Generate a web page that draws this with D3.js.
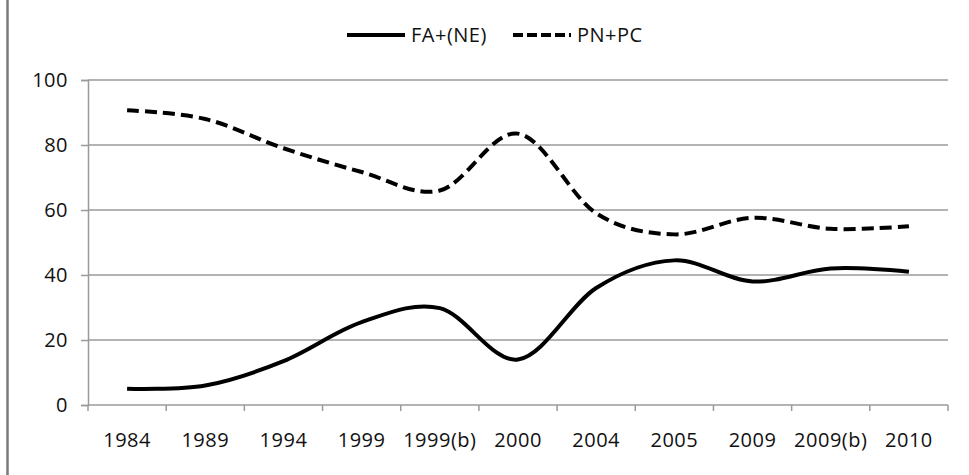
<!DOCTYPE html>
<html>
<head>
<meta charset="utf-8">
<script src="https://cdn.jsdelivr.net/npm/d3@7"></script>
<style>
  html, body { margin: 0; padding: 0; background: #fff; }
  svg { display: block; }
  text { font-family: "Open Sans", sans-serif; fill: #111; letter-spacing: 0.5px; }
</style>
</head>
<body>
<script>
// categories and series
const categories = ['1984', '1989', '1994', '1999', '1999(b)', '2000', '2004', '2005', '2009', '2009(b)', '2010'];
const faNe = [5, 6, 13.5, 25.5, 29.8, 14, 36, 44.5, 38, 42, 41];
const pnPc = [90.7, 88, 79, 71.7, 66, 83.5, 59, 52.5, 57.6, 54.2, 55];
const yTicks = [0, 20, 40, 60, 80, 100];

const series = [
  { name: 'FA+(NE)', values: faNe, dash: null },
  { name: 'PN+PC', values: pnPc, dash: '12,6' }
];

const width = 969, height = 475;
const margin = { top: 80, right: 21, bottom: 70, left: 88 };
const fontSize = 20;

const svg = d3.select('body').append('svg')
  .attr('width', width)
  .attr('height', height);

// left frame edge
svg.append('line')
  .attr('x1', 7.5).attr('x2', 7.5)
  .attr('y1', 0).attr('y2', height)
  .attr('stroke', '#7a7a7a')
  .attr('stroke-width', 2.5);

const x = d3.scaleBand()
  .domain(categories)
  .range([margin.left, width - margin.right]);

const y = d3.scaleLinear()
  .domain([0, 100])
  .range([height - margin.bottom, margin.top]);

// gridlines
svg.append('g')
  .selectAll('line')
  .data(yTicks.filter(d => d > 0))
  .join('line')
  .attr('x1', margin.left)
  .attr('x2', width - margin.right)
  .attr('y1', d => y(d))
  .attr('y2', d => y(d))
  .attr('stroke', '#9a9a9a')
  .attr('stroke-width', 1.5);

// y axis
const yAxis = svg.append('g')
  .attr('transform', `translate(${margin.left},0)`)
  .call(d3.axisLeft(y).tickValues(yTicks).tickSize(7).tickPadding(13));
yAxis.select('.domain').attr('stroke', '#9a9a9a').attr('stroke-width', 1.5);
yAxis.selectAll('.tick line').attr('stroke', '#9a9a9a').attr('stroke-width', 1.5);
yAxis.selectAll('.tick text').attr('font-size', fontSize).style('font-family', '"Open Sans", sans-serif').attr('fill', '#111');

// x axis with ticks on category boundaries
const xAxisG = svg.append('g')
  .attr('transform', `translate(0,${y(0)})`);
xAxisG.append('line')
  .attr('x1', margin.left).attr('x2', width - margin.right)
  .attr('stroke', '#9a9a9a').attr('stroke-width', 1.5);
const bounds = categories.map(c => x(c)).concat([x.range()[1]]);
xAxisG.selectAll('line.tk')
  .data(bounds)
  .join('line')
  .attr('class', 'tk')
  .attr('x1', d => d).attr('x2', d => d)
  .attr('y1', 0).attr('y2', 6)
  .attr('stroke', '#9a9a9a').attr('stroke-width', 1.5);
xAxisG.selectAll('text')
  .data(categories)
  .join('text')
  .attr('x', d => x(d) + x.bandwidth() / 2)
  .attr('y', 35)
  .attr('dy', '0.35em')
  .attr('text-anchor', 'middle')
  .attr('font-size', fontSize)
  .text(d => d);

// lines
const line = d3.line()
  .x((d, i) => x(categories[i]) + x.bandwidth() / 2)
  .y(d => y(d))
  .curve(d3.curveCatmullRom.alpha(0));

svg.append('g')
  .selectAll('path')
  .data(series)
  .join('path')
  .attr('d', d => line(d.values))
  .attr('fill', 'none')
  .attr('stroke', '#000')
  .attr('stroke-width', 4)
  .attr('stroke-dasharray', d => d.dash);

// legend
const legend = svg.append('g');
const legendX = [347, 513];
series.forEach((s, i) => {
  const g = legend.append('g').attr('transform', `translate(${legendX[i]},35)`);
  g.append('line')
    .attr('x1', 0).attr('x2', 58)
    .attr('stroke', '#000')
    .attr('stroke-width', 4)
    .attr('stroke-dasharray', s.dash ? '10,4' : null);
  g.append('text')
    .attr('x', 64)
    .attr('dy', '0.35em')
    .attr('font-size', fontSize)
    .text(s.name);
});
</script>
</body>
</html>
